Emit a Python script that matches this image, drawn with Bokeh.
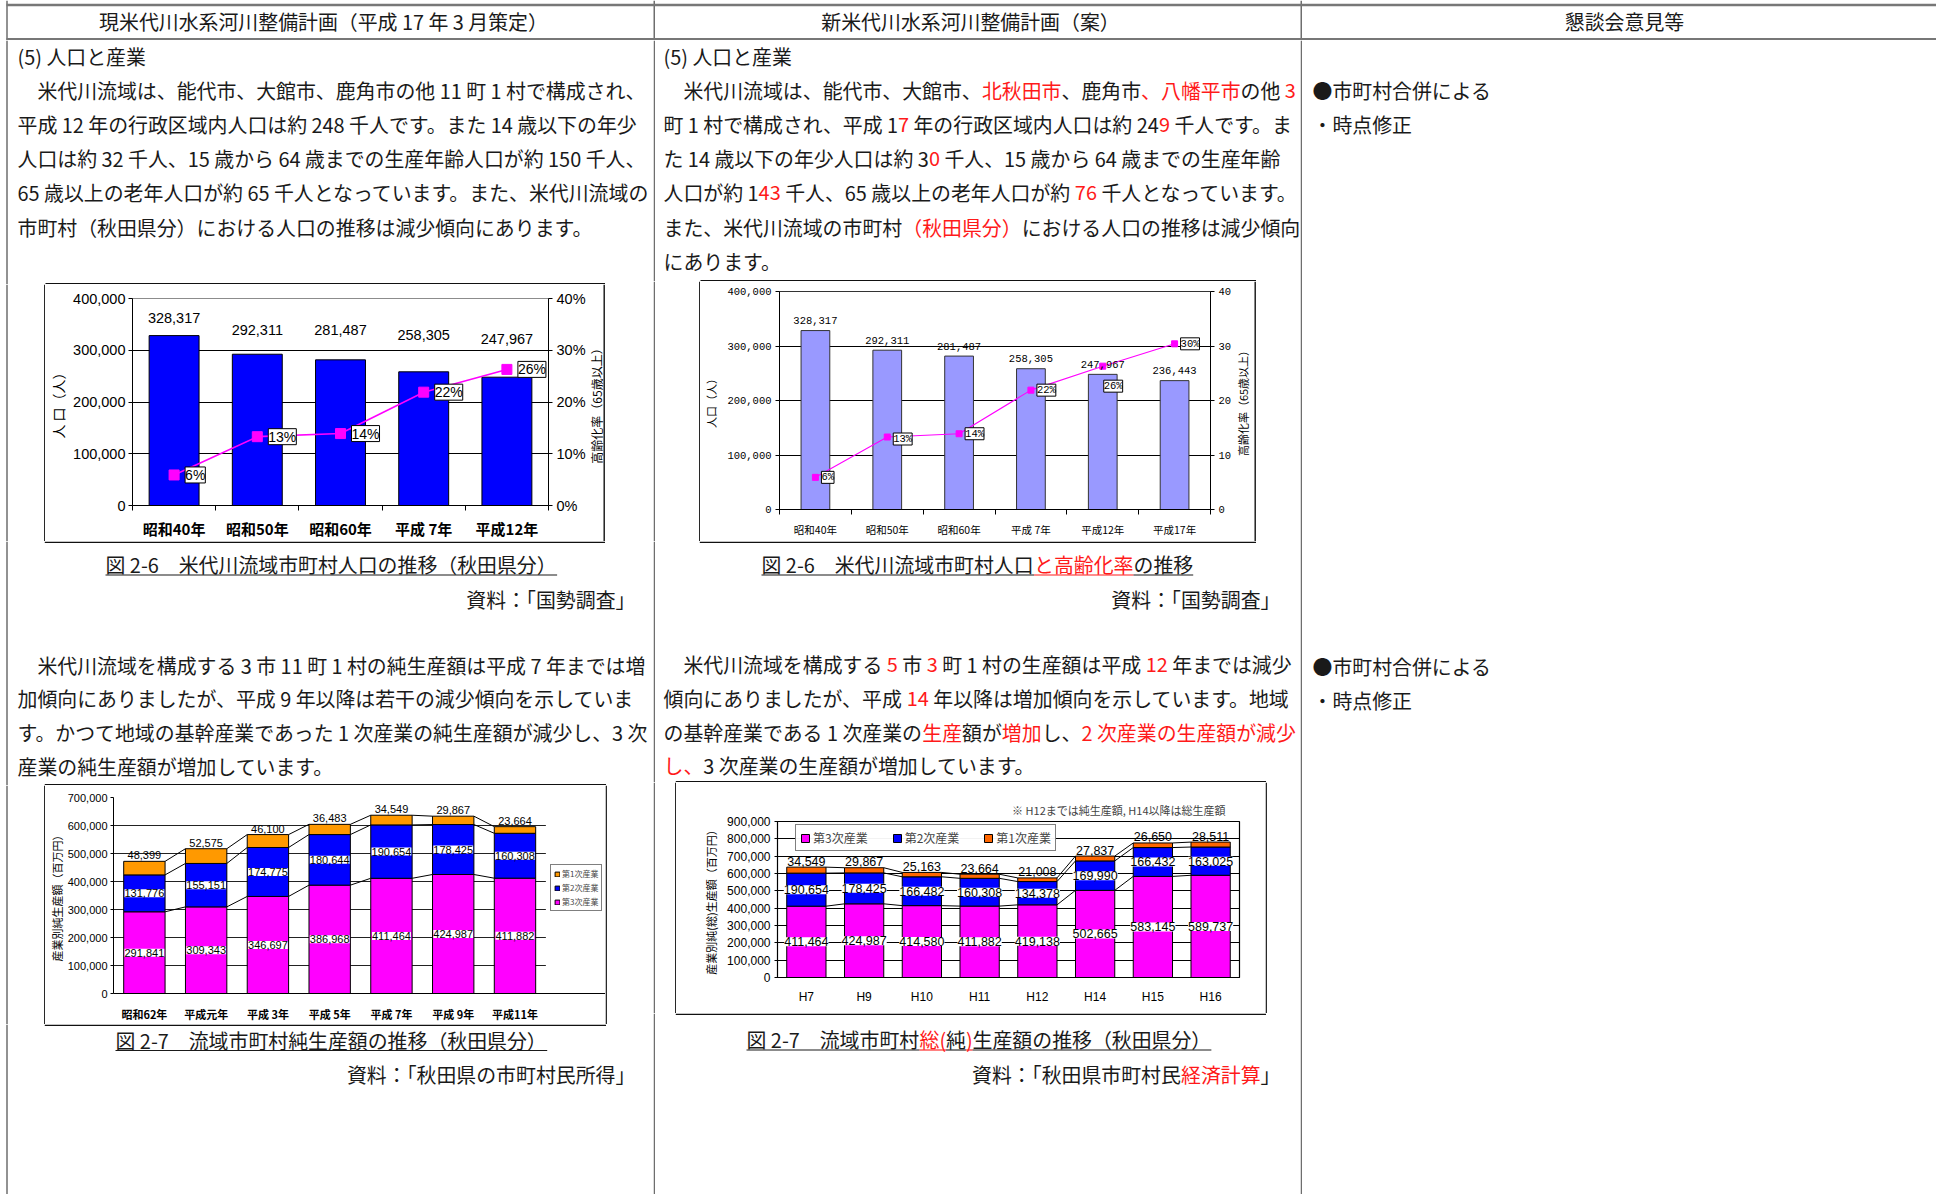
import math
import numpy as np
from bokeh.plotting import figure
from bokeh.models import (Range1d, ColumnDataSource, LabelSet, LinearAxis, FixedTicker,
                          NumeralTickFormatter, PrintfTickFormatter, Legend, LegendItem,
                          BoxAnnotation)
from bokeh.layouts import column, row
from bokeh.core.properties import value
from bokeh.embed import file_html
from bokeh.resources import INLINE

JP = "Noto Sans CJK JP"
LAT = "Liberation Sans"
MONO = "Liberation Mono"
RED = "#ff1a1a"
INK = "#1a1a1a"
RULE = "#6e6e6e"
BOXC = "#111111"
FS = 19.9

# ---------------- data ----------------
pop_years_old = ["昭和40年", "昭和50年", "昭和60年", "平成 7年", "平成12年"]
pop_old = [328317, 292311, 281487, 258305, 247967]
aging_old = [5.9, 13.3, 13.9, 21.9, 26.3]

pop_years_new = ["昭和40年", "昭和50年", "昭和60年", "平成 7年", "平成12年", "平成17年"]
pop_new = [328317, 292311, 281487, 258305, 247967, 236443]
aging_new = [5.9, 13.3, 13.9, 21.9, 26.3, 30.4]

prod_years_old = ["昭和62年", "平成元年", "平成 3年", "平成 5年", "平成 7年", "平成 9年", "平成11年"]
primary_old = [48399, 52575, 46100, 36483, 34549, 29867, 23664]
secondary_old = [131776, 155151, 174775, 180644, 190654, 178425, 160308]
tertiary_old = [291841, 309343, 346697, 386968, 411464, 424987, 411882]

prod_years_new = ["H7", "H9", "H10", "H11", "H12", "H14", "H15", "H16"]
primary_new = [34549, 29867, 25163, 23664, 21008, 27837, 26650, 28511]
secondary_new = [190654, 178425, 166482, 160308, 134378, 169990, 166432, 163025]
tertiary_new = [411464, 424987, 414580, 411882, 419138, 502665, 583145, 589737]

sector_names = ["第1次産業", "第2次産業", "第3次産業"]

# label placement tweaks (screen px)
pop_label_lift_old = [18, 24, 30, 37, 38]
aging_label_dx_new = [6, 6, 6, 6, 1, 6]
aging_label_dy_new = [0, -2, 0, 0, -20, 0]


def no_align(p):
    if "frame_align" in p.properties():
        p.frame_align = False


# ---------------- text helpers ----------------
OPEN = "（「『"
CLOSE = "、。，．）」』：；"


def tw(s, fs):
    w = 0.0
    prev = ""
    for c in s:
        if c == " ":
            w += 0.224
        elif c.isdigit():
            w += 0.555
        elif c in "()":
            w += 0.333
        elif c == "-":
            w += 0.36
        elif c == ",":
            w += 0.25
        elif c == "%":
            w += 0.87
        elif ord(c) < 128:
            w += 0.58
        else:
            w += 1.0
            if prev and ((prev in CLOSE + OPEN and c in OPEN) or (prev in CLOSE and c in CLOSE)):
                w -= 0.5
        prev = c
    return w * fs


def sheet(w, h, vlines=(), hlines=()):
    p = figure(width=w, height=h, x_range=Range1d(0, w), y_range=Range1d(h, 0),
               x_axis_location=None, y_axis_location=None, toolbar_location=None,
               output_backend="svg", min_border=0)
    no_align(p)
    p.grid.visible = False
    p.outline_line_color = None
    p.background_fill_color = "white"
    p.border_fill_color = "white"
    for (x, col, lw) in vlines:
        p.segment(x0=[x], y0=[0], x1=[x], y1=[h], line_color=col, line_width=lw)
    for (y, xa, xb, col, lw) in hlines:
        p.segment(x0=[xa], y0=[y], x1=[xb], y1=[y], line_color=col, line_width=lw)
    return p


def put(p, x, y, s, color=INK, fs=FS, align="left"):
    stripped = s.lstrip(" 　")
    lead = s[:len(s) - len(stripped)]
    if align == "left":
        x = x + tw(lead, fs)
    s = stripped.rstrip(" ")
    if not s:
        return
    p.text(x=[x], y=[y], text=[s], text_color=color, text_font=value(JP),
           text_font_size=f"{fs}px", text_align=align, text_baseline="middle")


def put_runs(p, x0, y, runs, fs=FS, right=None, underline=None, align="left"):
    widths = [tw(t, fs) for t, _ in runs]
    total = sum(widths)
    if align == "right":
        x0 = right - total
    cum = 0.0
    for (t, red), w in zip(runs, widths):
        xs = x0 + cum
        col = RED if red else INK
        put(p, xs, y, t, col, fs)
        if underline is not None:
            lead = len(t) - len(t.lstrip(" "))
            p.segment(x0=[xs + tw(t[:lead], fs)], y0=[underline], x1=[xs + w], y1=[underline],
                      line_color=col, line_width=1.1)
        cum += w


def vtitle(p, x, y, s, fs):
    p.text(x=[x], y=[y], text=[s], angle=math.pi / 2, text_color="black", text_font=value(JP),
           text_font_size=f"{fs}px", text_align="center", text_baseline="middle")


# ---------------- chart helpers ----------------
def new_chart(w, h, fl, fr, ft, fb, n, ymax, title=None, x_end=None):
    kw = {}
    if title:
        kw["title"] = title
    p = figure(width=w, height=h,
               x_range=Range1d(-0.5, n - 0.5 if x_end is None else x_end),
               y_range=Range1d(0, ymax),
               toolbar_location=None, output_backend="svg",
               min_border_left=fl, min_border_right=w - fr,
               min_border_top=ft, min_border_bottom=h - fb, **kw)
    no_align(p)
    p.background_fill_color = "white"
    p.border_fill_color = "white"
    p.xgrid.visible = False
    return p


def style_y(ax, font, size, title_size, standoff=5, label_standoff=4, tick_out=4):
    ax.major_label_text_font = font
    ax.major_label_text_font_size = size
    ax.major_label_text_color = "black"
    ax.axis_line_color = "black"
    ax.major_tick_line_color = "black"
    ax.major_tick_out = tick_out
    ax.major_tick_in = 0
    ax.minor_tick_line_color = None
    ax.major_label_standoff = label_standoff
    ax.axis_label_text_font = JP
    ax.axis_label_text_font_style = "normal"
    ax.axis_label_text_font_size = title_size
    ax.axis_label_text_color = "black"
    ax.axis_label_standoff = standoff


def set_x(p, labels_, font, size, bold, boundary):
    n = len(labels_)
    ax = p.xaxis[0]
    ax.ticker = FixedTicker(ticks=list(range(n)),
                            minor_ticks=[i - 0.5 for i in range(n + 1)] if boundary else [])
    ax.major_label_overrides = {i: s for i, s in enumerate(labels_)}
    ax.major_label_text_font = font
    ax.major_label_text_font_size = size
    ax.major_label_text_font_style = "bold" if bold else "normal"
    ax.major_label_text_color = "black"
    ax.major_tick_line_color = None
    ax.minor_tick_line_color = "black" if boundary else None
    ax.minor_tick_out = 5
    ax.minor_tick_in = 0
    ax.axis_line_color = "black"
    ax.major_label_standoff = 6


def labels(p, src, x, y, text, font, size, **kw):
    ls = LabelSet(x=x, y=y, text=text, source=src, text_font=value(font),
                  text_font_size=size, text_color="black", **kw)
    p.add_layout(ls)
    return ls


def set_padding(ls, pad):
    if "padding" in ls.properties():
        ls.padding = pad


# ---------- chart 1 : old population ----------
n1 = len(pop_years_old)
x1 = list(range(n1))
p1 = new_chart(543, 257, 85, 504, 14, 223, n1, 400000)
p1.outline_line_color = "#8c8c8c"
p1.ygrid.ticker = FixedTicker(ticks=[100000, 200000, 300000])
p1.ygrid.grid_line_color = "black"
p1.yaxis.ticker = FixedTicker(ticks=[0, 100000, 200000, 300000, 400000])
p1.yaxis.formatter = NumeralTickFormatter(format="0,0")
p1.yaxis.axis_label = "人 口（人）"
style_y(p1.yaxis[0], LAT, "14.5px", "14px", standoff=2, label_standoff=3)
p1.extra_y_ranges = {"pct": Range1d(0, 40)}
ax1r = LinearAxis(y_range_name="pct", ticker=FixedTicker(ticks=[0, 10, 20, 30, 40]),
                  formatter=PrintfTickFormatter(format="%d%%"))
style_y(ax1r, LAT, "14.5px", "12px", 4)
p1.add_layout(ax1r, "right")
set_x(p1, pop_years_old, JP, "15px", True, True)
p1.vbar(x=x1, top=pop_old, width=0.6, fill_color="#0000ff", line_color="black", line_width=1)
p1.line(x1, aging_old, y_range_name="pct", line_color="#ff00ff", line_width=1.6)
p1.scatter(x1, aging_old, y_range_name="pct", marker="square", size=10,
           fill_color="#ff00ff", line_color="#ff00ff")
s1 = ColumnDataSource(dict(x=x1, v=pop_old, t=[f"{v:,}" for v in pop_old], dy=pop_label_lift_old))
labels(p1, s1, "x", "v", "t", LAT, "14.5px", y_offset="dy", text_align="center",
       text_baseline="middle")
s1p = ColumnDataSource(dict(x=x1, v=aging_old, t=[f"{round(v)}%" for v in aging_old]))
l1p = labels(p1, s1p, "x", "v", "t", LAT, "14px", y_range_name="pct", x_offset=11,
             text_align="left", text_baseline="middle", background_fill_color="white",
             border_line_color="black", border_line_width=1)
set_padding(l1p, 3)

# ---------- chart 2 : new population ----------
n2 = len(pop_years_new)
x2 = list(range(n2))
p2 = new_chart(534, 260, 75, 513, 10, 228, n2, 400000)
p2.outline_line_color = "#333333"
p2.ygrid.ticker = FixedTicker(ticks=[100000, 200000, 300000])
p2.ygrid.grid_line_color = "black"
p2.yaxis.ticker = FixedTicker(ticks=[0, 100000, 200000, 300000, 400000])
p2.yaxis.formatter = NumeralTickFormatter(format="0,0")
p2.yaxis.axis_label = "人口（人）"
style_y(p2.yaxis[0], MONO, "10.5px", "11px")
p2.extra_y_ranges = {"pct": Range1d(0, 40)}
ax2r = LinearAxis(y_range_name="pct", ticker=FixedTicker(ticks=[0, 10, 20, 30, 40]))
style_y(ax2r, MONO, "10.5px", "11px")
p2.add_layout(ax2r, "right")
set_x(p2, pop_years_new, JP, "10.5px", False, True)
p2.vbar(x=x2, top=pop_new, width=0.4, fill_color="#9999ff", line_color="#333333", line_width=1)
p2.line(x2, aging_new, y_range_name="pct", line_color="#ff00ff", line_width=1.1)
p2.scatter(x2, aging_new, y_range_name="pct", marker="square", size=6,
           fill_color="#ff00ff", line_color="#ff00ff")
s2 = ColumnDataSource(dict(x=x2, v=pop_new, t=[f"{v:,}" for v in pop_new]))
labels(p2, s2, "x", "v", "t", MONO, "10.5px", y_offset=10, text_align="center",
       text_baseline="middle")
s2p = ColumnDataSource(dict(x=x2, v=aging_new, t=[f"{round(v)}%" for v in aging_new],
                            dx=aging_label_dx_new, dy=aging_label_dy_new))
l2p = labels(p2, s2p, "x", "v", "t", MONO, "10.5px", y_range_name="pct", x_offset="dx",
             y_offset="dy", text_align="left", text_baseline="middle",
             background_fill_color="white", border_line_color="black", border_line_width=1)
set_padding(l2p, 2)


# ---------- stacked charts ----------
def stacked(p, ter, sec, pri, colors, width, lab_font, lab_size, lift):
    n = len(ter)
    x = list(range(n))
    ter = np.array(ter, dtype=float)
    sec = np.array(sec, dtype=float)
    pri = np.array(pri, dtype=float)
    l1 = ter
    l2 = ter + sec
    l3 = l2 + pri
    r3 = p.vbar(x=x, bottom=0, top=l1, width=width, fill_color=colors[2], line_color="black", line_width=1)
    r2 = p.vbar(x=x, bottom=l1, top=l2, width=width, fill_color=colors[1], line_color="black", line_width=1)
    r1 = p.vbar(x=x, bottom=l2, top=l3, width=width, fill_color=colors[0], line_color="black", line_width=1)
    xa = [i + width / 2 for i in range(n - 1)]
    xb = [i + 1 - width / 2 for i in range(n - 1)]
    for lv in (l1, l2, l3):
        p.segment(x0=xa, y0=list(lv[:-1]), x1=xb, y1=list(lv[1:]), line_color="black", line_width=1)
    src = ColumnDataSource(dict(x=x, m3=list(l1 / 2), m2=list((l1 + l2) / 2), top=list(l3),
                                t3=[f"{int(v):,}" for v in ter], t2=[f"{int(v):,}" for v in sec],
                                t1=[f"{int(v):,}" for v in pri]))
    a = labels(p, src, "x", "m3", "t3", lab_font, lab_size, text_align="center",
               text_baseline="middle", background_fill_color="white")
    b = labels(p, src, "x", "m2", "t2", lab_font, lab_size, text_align="center",
               text_baseline="middle", background_fill_color="white")
    set_padding(a, 2)
    set_padding(b, 2)
    labels(p, src, "x", "top", "t1", lab_font, lab_size, y_offset=lift,
           text_align="center", text_baseline="middle")
    return r1, r2, r3


# ---------- chart 3 : old production ----------
n3 = len(prod_years_old)
grid3_px, frame3_px = 435, 495          # plot area width / frame incl. legend strip
x_end3 = -0.5 + n3 * frame3_px / grid3_px
p3 = new_chart(560, 239, 65, 560, 12, 212, n3, 700000, x_end=x_end3)
p3.outline_line_color = None
p3.ygrid.ticker = FixedTicker(ticks=[100000 * k for k in range(1, 8)])
p3.ygrid.grid_line_color = "#222222"
p3.yaxis.ticker = FixedTicker(ticks=[100000 * k for k in range(0, 8)])
p3.yaxis.formatter = NumeralTickFormatter(format="0,0")
p3.yaxis.axis_label = "産業別純生産額（百万円）"
style_y(p3.yaxis[0], LAT, "11px", "11px", standoff=0, label_standoff=3, tick_out=3)
set_x(p3, prod_years_old, JP, "11px", True, False)
# white strip to the right of the plot area (legend column)
p3.add_layout(BoxAnnotation(left=n3 - 0.5, right=x_end3, bottom=0, top=700000, level="underlay",
                            fill_color="white", fill_alpha=1, line_color=None))
r31, r32, r33 = stacked(p3, tertiary_old, secondary_old, primary_old,
                        ["#ff9900", "#0000ff", "#ff00ff"], 0.67, LAT, "11px", 6)
leg3 = Legend(items=[LegendItem(label=sector_names[0], renderers=[r31]),
                     LegendItem(label=sector_names[1], renderers=[r32]),
                     LegendItem(label=sector_names[2], renderers=[r33])],
              location=(437, 82), orientation="vertical")
leg3.label_text_font = JP
leg3.label_text_font_size = "8px"
leg3.glyph_width = 6
leg3.glyph_height = 6
leg3.label_height = 9
leg3.label_standoff = 2
leg3.spacing = 3
leg3.padding = 3
leg3.margin = 0
leg3.border_line_color = "black"
leg3.border_line_width = 1
p3.add_layout(leg3)

# ---------- chart 4 : new production ----------
n4 = len(prod_years_new)
p4 = new_chart(589, 231, 101, 563, 39, 195, n4, 900000,
               title="※ H12までは純生産額, H14以降は総生産額")
p4.title.align = "right"
p4.title.text_font = JP
p4.title.text_font_size = "11px"
p4.title.text_font_style = "normal"
p4.title.offset = 14
p4.title.standoff = 8
p4.outline_line_color = "black"
p4.outline_line_width = 1.2
p4.ygrid.ticker = FixedTicker(ticks=[100000 * k for k in range(1, 9)])
p4.ygrid.grid_line_color = "black"
p4.yaxis.ticker = FixedTicker(ticks=[100000 * k for k in range(0, 10)])
p4.yaxis.formatter = NumeralTickFormatter(format="0,0")
p4.yaxis.axis_label = "産業別純(総)生産額（百万円）"
style_y(p4.yaxis[0], LAT, "12px", "11px", tick_out=3)
set_x(p4, prod_years_new, LAT, "12px", False, False)
r41, r42, r43 = stacked(p4, tertiary_new, secondary_new, primary_new,
                        ["#ff6600", "#0000ff", "#ff00ff"], 0.68, LAT, "12.5px", 6)
leg4 = Legend(items=[LegendItem(label=sector_names[2], renderers=[r43]),
                     LegendItem(label=sector_names[1], renderers=[r42]),
                     LegendItem(label=sector_names[0], renderers=[r41])],
              location=(18, 126), orientation="horizontal")
leg4.label_text_font = JP
leg4.label_text_font_size = "12px"
leg4.glyph_width = 10
leg4.glyph_height = 10
leg4.label_standoff = 3
leg4.spacing = 24
leg4.padding = 4
leg4.margin = 0
leg4.border_line_color = "black"
leg4.border_line_width = 1.3
p4.add_layout(leg4)

# ---------------- page text ----------------
LH = 34.2
LH2 = 33.8
BW = 1.4
HF = 19.9
# header (page coordinates)
hdr = sheet(1936, 40, vlines=[(6.5, RULE, 1.5), (653.75, RULE, 1.5), (1300.75, RULE, 1.5)],
            hlines=[(4.5, 6, 1936, "#777777", 2.5), (38.8, 6, 1936, "#777777", 2.5)])
put(hdr, 323, 21, "現米代川水系河川整備計画（平成 17 年 3 月策定）", fs=HF, align="center")
put(hdr, 970, 21, "新米代川水系河川整備計画（案）", fs=HF, align="center")
put(hdr, 1624, 21, "懇談会意見等", fs=HF, align="center")

# ---- left column (x origin 0) ----
LV = (6.5, RULE, 1.5)
L1 = sheet(653, 244, vlines=[LV], hlines=[(243.3, 45, 604.5, BOXC, BW)])
put(L1, 17, 15.5, "(5) 人口と産業")
left_par1 = [
    "　米代川流域は、能代市、大館市、鹿角市の他 11 町 1 村で構成され、",
    "平成 12 年の行政区域内人口は約 248 千人です。また 14 歳以下の年少",
    "人口は約 32 千人、15 歳から 64 歳までの生産年齢人口が約 150 千人、",
    "65 歳以上の老年人口が約 65 千人となっています。また、米代川流域の",
    "市町村（秋田県分）における人口の推移は減少傾向にあります。",
]
for k, s in enumerate(left_par1):
    put(L1, 17, 49.7 + LH * k, s)

SL1 = sheet(45, 257, vlines=[LV, (44.3, BOXC, BW)])
SR1 = sheet(65, 257, vlines=[(15.7, BOXC, BW)])
vtitle(SR1, 8, 118.5, "高齢化率（65歳以上）", 12)

L2 = sheet(653, 244, vlines=[LV], hlines=[(0.7, 44.3, 604.5, BOXC, BW), (243.3, 44.3, 605.5, BOXC, BW)])
put_runs(L2, 105, 23, [("図 2-6　米代川流域市町村人口の推移（秋田県分）", 0)], fs=HF, underline=33.5)
put_runs(L2, 0, 58, [("資料：「国勢調査」", 0)], fs=HF, right=635, align="right")
left_par2 = [
    "　米代川流域を構成する 3 市 11 町 1 村の純生産額は平成 7 年までは増",
    "加傾向にありましたが、平成 9 年以降は若干の減少傾向を示していま",
    "す。かつて地域の基幹産業であった 1 次産業の純生産額が減少し、3 次",
    "産業の純生産額が増加しています。",
]
for k, s in enumerate(left_par2):
    put(L2, 17, 123.5 + LH2 * k, s)

SL3 = sheet(45, 239, vlines=[LV, (44.3, BOXC, BW)])
SR3 = sheet(48, 239, vlines=[(0.7, BOXC, BW)])

L3 = sheet(653, 170, vlines=[LV], hlines=[(0.7, 44.3, 605.5, BOXC, BW)])
put_runs(L3, 115, 15.5, [("図 2-7　流域市町村純生産額の推移（秋田県分）", 0)], fs=HF, underline=26)
put_runs(L3, 0, 50, [("資料：「秋田県の市町村民所得」", 0)], fs=HF, right=635, align="right")

# ---- middle column (x origin 653) ----
MV = (0.75, RULE, 1.5)
M1 = sheet(647, 241, vlines=[MV], hlines=[(240.3, 47, 602.5, BOXC, BW)])
put(M1, 10, 15.5, "(5) 人口と産業")
mid_par1 = [
    [("　米代川流域は、能代市、大館市、", 0), ("北秋田市", 1), ("、鹿角市", 0), ("、八幡平市", 1), ("の他 ", 0), ("3", 1)],
    [("町 1 村で構成され、平成 1", 0), ("7", 1), (" 年の行政区域内人口は約 24", 0), ("9", 1), (" 千人です。ま", 0)],
    [("た 14 歳以下の年少人口は約 3", 0), ("0", 1), (" 千人、15 歳から 64 歳までの生産年齢", 0)],
    [("人口が約 1", 0), ("43", 1), (" 千人、65 歳以上の老年人口が約 ", 0), ("76", 1), (" 千人となっています。", 0)],
    [("また、米代川流域の市町村", 0), ("（秋田県分）", 1), ("における人口の推移は減少傾向", 0)],
    [("にあります。", 0)],
]
for k, runs in enumerate(mid_par1):
    put_runs(M1, 10, 49.7 + LH * k, runs)

SM2L = sheet(47, 260, vlines=[MV, (46.3, BOXC, BW)])
SM2R = sheet(66, 260, vlines=[(20.7, BOXC, BW)])
vtitle(SM2R, 8, 119, "高齢化率（65歳以上）", 11)

M2 = sheet(647, 241, vlines=[MV], hlines=[(0.7, 46.3, 602.5, BOXC, BW), (240.3, 22.3, 612.5, BOXC, BW)])
put_runs(M2, 108, 23, [("図 2-6　米代川流域市町村人口", 0), ("と高齢化率", 1), ("の推移", 0)], fs=HF, underline=33.5)
put_runs(M2, 0, 58, [("資料：「国勢調査」", 0)], fs=HF, right=627, align="right")
mid_par2 = [
    [("　米代川流域を構成する ", 0), ("5", 1), (" 市 ", 0), ("3", 1), (" 町 1 村の生産額は平成 ", 0), ("12", 1), (" 年までは減少", 0)],
    [("傾向にありましたが、平成 ", 0), ("14", 1), (" 年以降は増加傾向を示しています。地域", 0)],
    [("の基幹産業である 1 次産業の", 0), ("生産", 1), ("額が", 0), ("増加", 1), ("し、", 0), ("2 次産業の生産額が減少", 1)],
    [("し、", 1), ("3 次産業の生産額が増加しています。", 0)],
]
for k, runs in enumerate(mid_par2):
    put_runs(M2, 10, 123 + LH2 * k, runs)

SM4L = sheet(23, 231, vlines=[MV, (22.3, BOXC, BW)])
SM4R = sheet(35, 231, vlines=[(0.7, BOXC, BW)])

M3 = sheet(647, 181, vlines=[MV], hlines=[(0.7, 22.3, 612.5, BOXC, BW)])
put_runs(M3, 93, 26, [("図 2-7　流域市町村", 0), ("総(", 1), ("純", 0), (")", 1), ("生産額の推移（秋田県分）", 0)],
         fs=HF, underline=36.5)
put_runs(M3, 0, 61, [("資料：「秋田県市町村民", 0), ("経済計算", 1), ("」", 0)], fs=HF, right=627, align="right")

# ---- right column (x origin 1300) ----
R = sheet(636, 1154, vlines=[MV])
put(R, 12, 49.7, "●市町村合併による")
put(R, 12, 84, "・時点修正")
put(R, 12, 626, "●市町村合併による")
put(R, 12, 660, "・時点修正")

colL = column(L1, row(SL1, p1, SR1, spacing=0), L2, row(SL3, p3, SR3, spacing=0), L3, spacing=0)
colM = column(M1, row(SM2L, p2, SM2R, spacing=0), M2, row(SM4L, p4, SM4R, spacing=0), M3, spacing=0)
body = row(colL, colM, R, spacing=0)
page = column(hdr, body, spacing=0)

open("out.html", "w").write(file_html(page, INLINE))
